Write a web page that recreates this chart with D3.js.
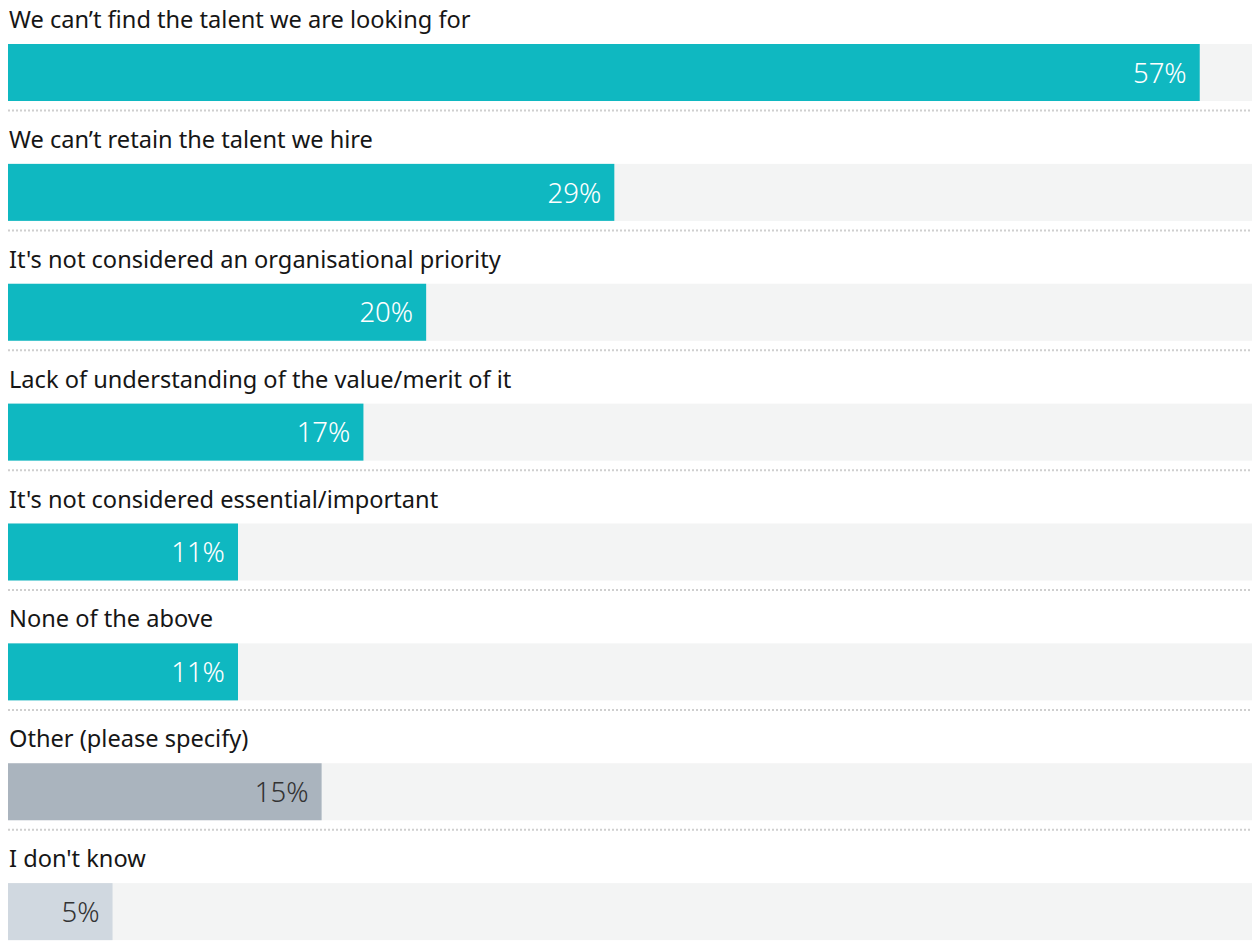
<!DOCTYPE html>
<html>
<head>
<meta charset="utf-8">
<script src="https://cdn.jsdelivr.net/npm/d3@7"></script>
<style>
  html, body { margin: 0; padding: 0; background: #ffffff; }
  svg { display: block; }
</style>
</head>
<body>
<svg id="chart" width="1252" height="943"></svg>
<script>
const categories = [
  "We can\u2019t find the talent we are looking for",
  "We can\u2019t retain the talent we hire",
  "It's not considered an organisational priority",
  "Lack of understanding of the value/merit of it",
  "It's not considered essential/important",
  "None of the above",
  "Other (please specify)",
  "I don't know"
];
const values = [57, 29, 20, 17, 11, 11, 15, 5];
const barColors = ["#0fb8c1", "#0fb8c1", "#0fb8c1", "#0fb8c1", "#0fb8c1", "#0fb8c1", "#aab4be", "#d0d8e0"];
const valueColors = ["#ffffff", "#ffffff", "#ffffff", "#ffffff", "#ffffff", "#ffffff", "#333333", "#333333"];

const width = 1252, left = 8;
const svg = d3.select("#chart");

const x = d3.scaleLinear().domain([0, 59.5]).range([0, width - left]);
const y = d3.scaleBand().domain(categories).range([0, 959]).paddingInner(0);

const font = "'Noto Sans', 'Open Sans', sans-serif";
const rows = svg.selectAll("g.row")
  .data(categories.map((c, i) => ({ c, v: values[i], i })))
  .join("g")
  .attr("class", "row")
  .attr("transform", d => `translate(${left},${y(d.c)})`);

// category label above each bar
rows.append("text")
  .attr("x", 1)
  .attr("y", 28)
  .attr("font-family", font)
  .attr("font-size", 23.6)
  .attr("fill", "#161616")
  .text(d => d.c);

// full-width track behind the bar
rows.append("rect")
  .attr("x", 0).attr("y", 44)
  .attr("width", x.range()[1]).attr("height", 57)
  .attr("fill", "#f3f4f4");

rows.append("rect")
  .attr("x", 0).attr("y", 44)
  .attr("width", d => x(d.v)).attr("height", 57)
  .attr("fill", d => barColors[d.i]);

// value label, right-aligned inside the bar
rows.append("text")
  .attr("x", d => x(d.v) - 13)
  .attr("y", 73)
  .attr("dy", "0.35em")
  .attr("text-anchor", "end")
  .attr("font-family", font)
  .attr("font-size", 27.5)
  .attr("font-weight", 300)
  .attr("fill", d => valueColors[d.i])
  .text(d => d.v + "%");

// dotted separator between rows
rows.filter(d => d.i < categories.length - 1)
  .append("line")
  .attr("x1", 0).attr("x2", x.range()[1])
  .attr("y1", 110.5).attr("y2", 110.5)
  .attr("stroke", "#cfcfcf")
  .attr("stroke-width", 2)
  .attr("stroke-dasharray", "2,2");
</script>
</body>
</html>
